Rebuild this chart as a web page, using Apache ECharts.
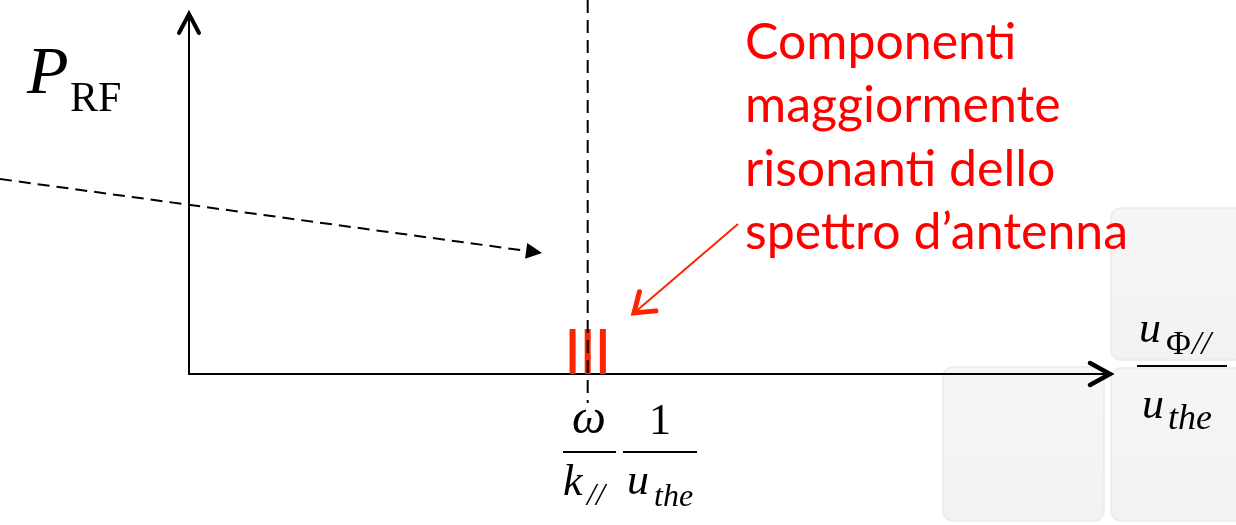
<!DOCTYPE html>
<html>
<head>
<meta charset="utf-8">
<script src="https://cdn.jsdelivr.net/npm/echarts@6/dist/echarts.min.js"></script>
<style>
  html, body { margin: 0; padding: 0; background: #ffffff; }
  #chart { width: 1236px; height: 525px; }
</style>
</head>
<body>
<div id="chart"></div>
<script>
// Normalised phase velocity u_phi// / u_the on x, RF power on y
const xLimits = [0, 2.31];
const yLimits = [0, 1];
// Resonance condition omega / (k// u_the)
const resonance = 1.0;
// Most resonant components of the antenna spectrum
const componentPos = [0.962, 1.0, 1.038];
const componentPower = [0.125, 0.125, 0.125];

const noteLines = ['Componenti', 'maggiormente', 'risonanti dello', 'spettro d\u2019antenna'];

const SERIF = '"Liberation Serif", "DejaVu Serif", serif';
const SANS = 'Lato, "Open Sans", sans-serif';
const RED = '#ff0000';
const BAR_RED = '#ff2400';

const chart = echarts.init(document.getElementById('chart'), null, { renderer: 'canvas' });

const componentData = componentPos.map((x, i) => [x, componentPower[i]]);

chart.setOption({
  animation: false,
  backgroundColor: '#ffffff',
  grid: { left: 189, right: 126, top: 14, bottom: 151, containLabel: false },
  xAxis: {
    type: 'value', min: xLimits[0], max: xLimits[1],
    axisLine: { show: true, onZero: false, lineStyle: { color: '#000', width: 2 } },
    axisTick: { show: false }, axisLabel: { show: false }, splitLine: { show: false }
  },
  yAxis: {
    type: 'value', min: yLimits[0], max: yLimits[1],
    axisLine: { show: true, onZero: false, lineStyle: { color: '#000', width: 2 } },
    axisTick: { show: false }, axisLabel: { show: false }, splitLine: { show: false }
  },
  series: [{
    type: 'custom',
    z: 5,
    data: componentData,
    renderItem: function (params, api) {
      const base = api.coord([api.value(0), 0]);
      const top = api.coord([api.value(0), api.value(1)]);
      return {
        type: 'rect',
        shape: { x: base[0] - 3, y: top[1], width: 6, height: base[1] - top[1] },
        style: { fill: BAR_RED }
      };
    }
  }]
});

// Pixel helpers for the annotations
const xEnd = chart.convertToPixel({ gridIndex: 0 }, [xLimits[1], yLimits[0]]);
const yEnd = chart.convertToPixel({ gridIndex: 0 }, [xLimits[0], yLimits[1]]);
const resX = chart.convertToPixel({ gridIndex: 0 }, [resonance, 0])[0];

function label(text, x, baseline, size, opts) {
  opts = opts || {};
  const fam = opts.family || SERIF;
  const k = opts.k != null ? opts.k : 0.34;
  return {
    type: 'text', z: opts.z || 20,
    x: x, y: baseline - k * size,
    style: {
      text: text,
      font: (opts.italic ? 'italic ' : '') + (opts.bold ? 'bold ' : '') + size + 'px ' + fam,
      fill: opts.color || '#000',
      textAlign: opts.align || 'left',
      textVerticalAlign: 'middle'
    }
  };
}

function hline(x1, x2, y, w) {
  return { type: 'line', z: 20, shape: { x1: x1, y1: y, x2: x2, y2: y }, style: { stroke: '#000', lineWidth: w || 2 } };
}

function tile(x, y, w, h) {
  return {
    type: 'rect', z: 0,
    shape: { x: x, y: y, width: w, height: h, r: 10 },
    style: {
      fill: new echarts.graphic.LinearGradient(0, 0, 0, 1, [
        { offset: 0, color: '#f5f6f6' }, { offset: 1, color: '#f1f2f2' }
      ]),
      stroke: '#e9eaea', lineWidth: 1.5
    }
  };
}

// dashed pointer towards the spectrum
const dashTip = [542, 253];
const dashStart = [0, 179];
const dv = [dashTip[0] - dashStart[0], dashTip[1] - dashStart[1]];
const dl = Math.hypot(dv[0], dv[1]);
const du = [dv[0] / dl, dv[1] / dl];
const dn = [-du[1], du[0]];
const headLen = 16, headHalf = 8;
const dBase = [dashTip[0] - du[0] * headLen, dashTip[1] - du[1] * headLen];

// red callout arrow
const redStart = [738, 224];
const redTip = [634, 313];
const rv = [redStart[0] - redTip[0], redStart[1] - redTip[1]];
const rl = Math.hypot(rv[0], rv[1]);
const ra = Math.atan2(rv[1], rv[0]);
const armLen = 22, armAng = 35 * Math.PI / 180;
const arm1 = [redTip[0] + armLen * Math.cos(ra + armAng), redTip[1] + armLen * Math.sin(ra + armAng)];
const arm2 = [redTip[0] + armLen * Math.cos(ra - armAng), redTip[1] + armLen * Math.sin(ra - armAng)];

const graphics = [
  tile(943, 367, 161, 154),
  tile(1111, 368, 140, 153),
  tile(1111, 208, 140, 152),

  // axis arrow heads
  { type: 'polyline', z: 15, shape: { points: [[xEnd[0] - 20, xEnd[1] - 11], [xEnd[0], xEnd[1]], [xEnd[0] - 20, xEnd[1] + 11]] },
    style: { stroke: '#000', lineWidth: 4.5, fill: null, lineJoin: 'miter', lineCap: 'round' } },
  { type: 'polyline', z: 15, shape: { points: [[yEnd[0] - 10, yEnd[1] + 19], [yEnd[0], yEnd[1]], [yEnd[0] + 10, yEnd[1] + 19]] },
    style: { stroke: '#000', lineWidth: 4, fill: null, lineJoin: 'miter', lineCap: 'round' } },

  // resonance line
  { type: 'line', z: 12, shape: { x1: resX, y1: 0, x2: resX, y2: 403 },
    style: { stroke: '#000', lineWidth: 2, lineDash: [13, 7] } },

  // dashed pointer
  { type: 'line', z: 12, shape: { x1: dashStart[0], y1: dashStart[1], x2: dBase[0], y2: dBase[1] },
    style: { stroke: '#000', lineWidth: 2, lineDash: [12, 7] } },
  { type: 'polygon', z: 12, shape: { points: [dashTip,
      [dBase[0] + dn[0] * headHalf, dBase[1] + dn[1] * headHalf],
      [dBase[0] - dn[0] * headHalf, dBase[1] - dn[1] * headHalf]] },
    style: { fill: '#000' } },

  // red callout arrow
  { type: 'line', z: 12, shape: { x1: redStart[0], y1: redStart[1], x2: redTip[0] + rv[0] / rl * 2, y2: redTip[1] + rv[1] / rl * 2 },
    style: { stroke: BAR_RED, lineWidth: 2 } },
  { type: 'polyline', z: 12, shape: { points: [arm1, redTip, arm2] },
    style: { stroke: BAR_RED, lineWidth: 5, fill: null, lineJoin: 'miter', lineCap: 'round' } },

  // P_RF
  label('P', 27, 98, 68, { italic: true }),
  label('RF', 70, 114, 42),

  // omega / k//  and  1 / u_the under the axis
  label('\u03c9', 589, 437, 48, { italic: true, align: 'center' }),
  hline(563, 616, 452),
  label('k', 563, 498, 44, { italic: true }),
  label('//', 587, 507, 32, { italic: true }),
  label('1', 660, 437, 44, { align: 'center' }),
  hline(623, 697, 452),
  label('u', 627, 497, 44, { italic: true }),
  label('the', 654, 508, 32, { italic: true }),

  // u_phi// / u_the at the axis end
  label('u', 1139, 345, 44, { italic: true }),
  label('\u03a6', 1166, 357, 34),
  label('//', 1192, 357, 34, { italic: true }),
  hline(1137, 1227, 366),
  label('u', 1142, 421, 44, { italic: true }),
  label('the', 1168, 432, 36, { italic: true })
];

// red note
const noteBaselines = [61, 124, 188, 251];
noteLines.forEach((t, i) => {
  graphics.push(label(t, 745, noteBaselines[i], 50, { family: SANS, color: RED, k: 0.36 }));
});

chart.setOption({ graphic: { elements: graphics } });
</script>
</body>
</html>
